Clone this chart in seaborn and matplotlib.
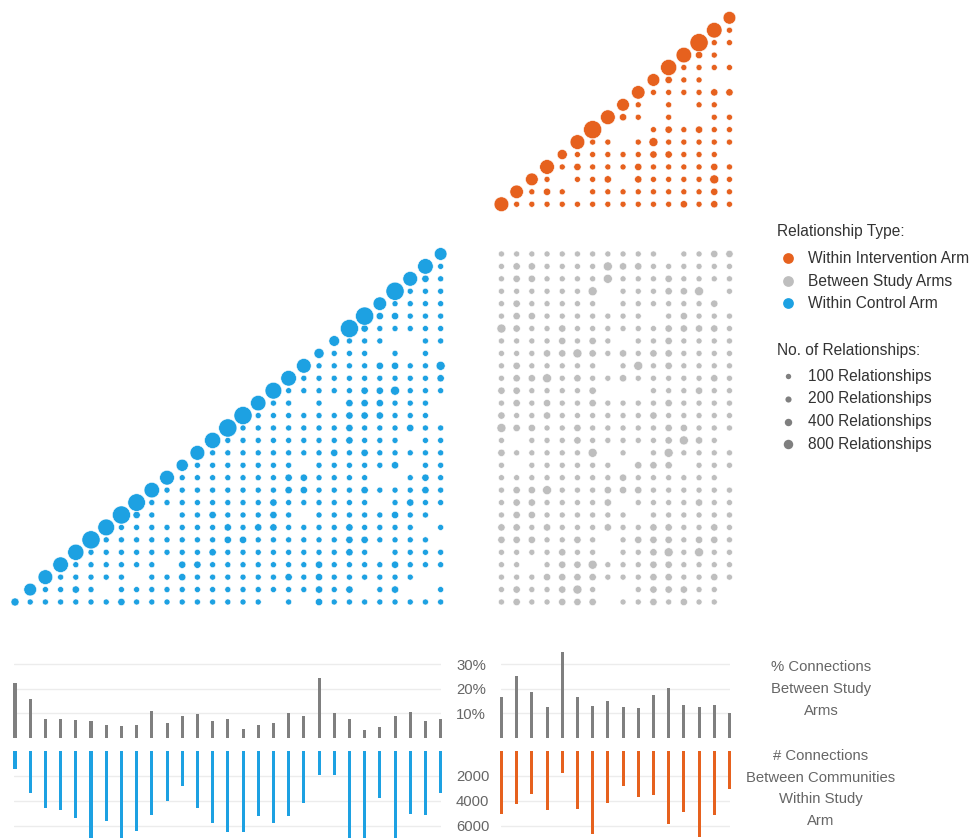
import numpy as np
import pandas as pd
import matplotlib
matplotlib.use("Agg")
import matplotlib.pyplot as plt
import seaborn as sns

sns.set_theme(style="white")
plt.rcParams['font.family'] = ['Liberation Sans', 'DejaVu Sans']

ORANGE = "#E6611E"
BLUE = "#1DA1E2"
LIGHT = "#BEBEBE"
DARK = "#7F7F7F"
TEXT = "#666666"

# dot size codes: '.' = no dot
code_value = {'1': 180, '2': 380, '3': 700}

# within control arm (29 communities): diagonal and, per row j, columns j+1..29
control_diag = [510, 1630, 2270, 2560, 2790, 3580, 3010, 3550, 3330, 2540,
                2270, 1460, 2290, 2800, 3600, 3570, 2520, 3020, 2580, 2250,
                940, 1080, 3560, 3600, 1870, 3590, 2260, 2560, 1620]
control_rows = [
    "1111112111111111.1.211111111",
    "1121.1111111111111212.12..1",
    "11111.112111111212111111.",
    "111111.221111111211112111",
    "1111111121111111121.1111",
    "1111111122111111221111.",
    "11111112122111121111.1",
    "21.11211121.11111211.",
    "111111112111111.1211",
    "1111111122111211121",
    "1111111221111..121",
    "1111111.111112.11",
    "1111111121211111",
    "111111112111.11",
    "11111112111211",
    "111111222111.",
    "11.1.222111.",
    "11111223111",
    "1111111112",
    "111122113",
    "111.1.1.",
    "111..11",
    "211111",
    "22111",
    "1111",
    "111",
    "21",
    "1",
]

# within intervention arm (16 communities)
interv_diag = [2270, 1870, 1630, 2270, 940, 2270, 3580, 2270, 1630, 1870,
               1630, 2790, 2560, 3580, 2560, 1630]
interv_rows = [
    "111111111112121",
    "121.1111111121",
    "1.112.2111131",
    "121112111121",
    "1111122111.",
    "11.1311111",
    "...121211",
    "21.1..11",
    "1.1.11.",
    "111122",
    "211..",
    "1111",
    "21.",
    "11",
    "1",
]

# between study arms: control rows 29 (top) .. 1 (bottom) x intervention 1..16
between_rows = [
    "11111111111.1122",
    "1221111322111111",
    "1221111311121111",
    "1111113.111223.1",
    "1211111.1111112.",
    "1221111111.12111",
    "3211211111122221",
    "11112121.1121111",
    "1112232121221111",
    "1211111.13121111",
    "1223121121111121",
    "2211112...111211",
    "1212112111121111",
    "2112111111211111",
    "3221121111122111",
    "1.1112111112321.",
    "2111113.1.131111",
    "1.111111.222.111",
    "111111112111111.",
    "1223111222111111",
    "12211112.1111211",
    "122111111.111111",
    "2212111211221121",
    "2221121.12221221",
    "1111211.11231311",
    "11.1223111221111",
    "1112222111221121",
    "1211231..122211.",
    "1211222.1121211.",
]

# bar panels
control_pct = [22.2, 15.9, 7.6, 7.8, 7.4, 6.8, 5.4, 4.9, 5.4, 11.1, 6.2, 8.8,
               9.6, 7.0, 7.7, 3.8, 5.3, 5.9, 10.1, 8.9, 24.2, 10.1, 7.8, 3.2,
               4.3, 8.8, 10.5, 7.0, 7.6]
control_links = [1440, 3360, 4610, 4750, 5410, 7600, 5600, 7800, 6430, 5120,
                 4000, 2850, 4560, 5810, 6510, 6530, 5200, 5790, 5250, 4190,
                 1970, 1920, 7400, 7900, 3790, 7500, 5040, 5150, 3360]
interv_pct = [16.5, 25.1, 18.5, 12.6, 34.9, 16.8, 13.2, 14.9, 12.4, 12.2,
              17.3, 20.4, 13.5, 12.8, 13.4, 10.0]
interv_links = [5090, 4290, 3440, 4720, 1760, 4670, 6670, 4190, 2800, 3710,
                3520, 5840, 4880, 6930, 5120, 3070]

# ---- assemble dot table
pts = []
for j in range(29):
    pts.append((j, j, control_diag[j], "Within Control Arm"))
    codes = control_rows[j] if j < len(control_rows) else ""
    for k, c in enumerate(codes):
        if c != ".":
            pts.append((j + 1 + k, j, code_value[c], "Within Control Arm"))
for j in range(16):
    pts.append((32 + j, 32 + j, interv_diag[j], "Within Intervention Arm"))
    codes = interv_rows[j] if j < len(interv_rows) else ""
    for k, c in enumerate(codes):
        if c != ".":
            pts.append((32 + j + 1 + k, 32 + j, code_value[c], "Within Intervention Arm"))
for r, codes in enumerate(between_rows):
    for i, c in enumerate(codes):
        if c != ".":
            pts.append((32 + i, 28 - r, code_value[c], "Between Study Arms"))
df = pd.DataFrame(pts, columns=["x", "y", "n", "type"])

palette = {"Within Intervention Arm": ORANGE, "Between Study Arms": LIGHT,
           "Within Control Arm": BLUE}
size_range = (15.1, 190.0)
size_norm = (100, 4000)

fig = plt.figure(figsize=(9.73, 8.38), dpi=100)

ax = fig.add_axes([0.00292, 0.26976, 0.7624, 0.72384])
sns.scatterplot(data=df, x="x", y="y", hue="type", size="n", palette=palette,
                sizes=size_range, size_norm=size_norm, legend=False, ax=ax,
                linewidth=0.4, edgecolor="white")
ax.set_xlim(-0.8, 48.0)
ax.set_ylim(-0.8, 48.0)
ax.axis("off")


def bar_panel(rect, vals, color, ylim, ticks, labels):
    a = fig.add_axes(rect)
    sns.barplot(x=list(range(1, len(vals) + 1)), y=vals, color=color,
                saturation=1, width=0.2, errorbar=None, linewidth=0, ax=a)
    a.set_xlim(-0.05, len(vals) - 0.95)
    a.set_ylim(*ylim)
    a.set_yticks(ticks)
    a.set_axisbelow(True)
    a.yaxis.grid(True, color="#ececec", lw=1)
    a.xaxis.grid(False)
    for s in a.spines.values():
        s.set_visible(False)
    a.set_xticks([])
    a.set_xlabel("")
    a.set_ylabel("")
    for p in a.patches:
        p.set_clip_on(False)
    if labels:
        a.yaxis.tick_right()
        a.set_yticklabels(labels)
        a.tick_params(axis="y", length=0, pad=10.5, labelsize=10.7, labelcolor=TEXT)
    else:
        a.set_yticklabels([])
        a.tick_params(axis="y", length=0)
    return a


bar_panel([0.014635, 0.11933, 0.43905, 0.10568], control_pct, DARK, (0, 36),
          [10, 20, 30], ["10%", "20%", "30%"])
bar_panel([0.51464, 0.11933, 0.23589, 0.10568], interv_pct, DARK, (0, 36),
          [10, 20, 30], None)
bar_panel([0.014635, 0.0, 0.43905, 0.10418], control_links, BLUE, (6984, 0),
          [2000, 4000, 6000], ["2000", "4000", "6000"])
bar_panel([0.51464, 0.0, 0.23589, 0.10418], interv_links, ORANGE, (6984, 0),
          [2000, 4000, 6000], None)

# ---- overlay for labels and legend, in pixel coordinates
ov = fig.add_axes([0, 0, 1, 1])
ov.set_xlim(0, 973)
ov.set_ylim(838, 0)
ov.axis("off")

for txt, yy in zip(["% Connections", "Between Study", "Arms"], [667, 689, 711]):
    ov.text(821, yy, txt, ha="center", va="center", fontsize=10.7, color=TEXT)
for txt, yy in zip(["# Connections", "Between Communities", "Within Study", "Arm"],
                   [756, 778, 799, 821]):
    ov.text(821, yy, txt, ha="center", va="center", fontsize=10.7, color=TEXT)


def area(v):
    t = (v - size_norm[0]) / (size_norm[1] - size_norm[0])
    return size_range[0] + t * (size_range[1] - size_range[0])


LEG = "#333333"
ov.text(777, 231, "Relationship Type:", ha="left", va="center", fontsize=11.2, color=LEG)
for lab, yy in zip(["Within Intervention Arm", "Between Study Arms", "Within Control Arm"],
                   [258.5, 281, 303.5]):
    ov.scatter([788], [yy], s=60, color=palette[lab], linewidths=0)
    ov.text(808, yy, lab, ha="left", va="center", fontsize=11.2, color=LEG)

ov.text(777, 350, "No. of Relationships:", ha="left", va="center", fontsize=11.2, color=LEG)
for v, yy in zip([100, 200, 400, 800], [376, 398.7, 421.5, 444.3]):
    ov.scatter([788], [yy], s=area(v), color=DARK, linewidths=0)
    ov.text(808, yy, f"{v} Relationships", ha="left", va="center", fontsize=11.2, color=LEG)

fig.savefig("out.png", dpi=100)
